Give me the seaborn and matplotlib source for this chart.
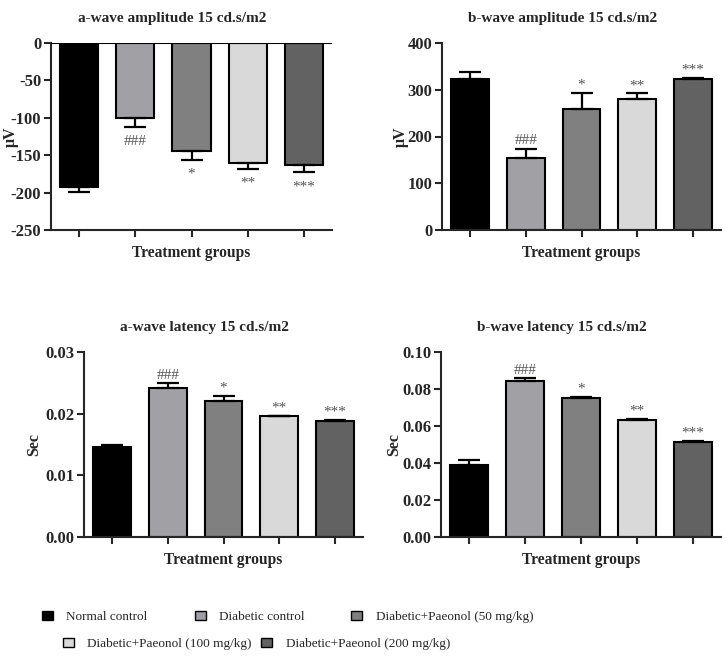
import numpy as np
import pandas as pd
import matplotlib
matplotlib.use("Agg")
import matplotlib.pyplot as plt
from matplotlib.patches import Patch
import seaborn as sns

sns.set_style("ticks")
plt.rcParams['font.family'] = ['Liberation Serif', 'DejaVu Serif']
plt.rcParams['font.weight'] = 'bold'

# 组别与颜色
groups = ["Normal control", "Diabetic control", "Diabetic+Paeonol (50 mg/kg)",
          "Diabetic+Paeonol (100 mg/kg)", "Diabetic+Paeonol (200 mg/kg)"]
colors = ["#000000", "#a19fa5", "#808080", "#d9d9d9", "#626262"]
marks = ["", "###", "*", "**", "***"]

# 各面板数据：均值与误差
a_amp_mean = [-193, -100, -145, -161, -163]
a_amp_err = [6, 12, 11, 7, 10]
b_amp_mean = [322, 153, 259, 280, 322]
b_amp_err = [15, 21, 35, 12, 3]
a_lat_mean = [0.0146, 0.0242, 0.0220, 0.0196, 0.0188]
a_lat_err = [0.0003, 0.0007, 0.0008, 0.0001, 0.0002]
b_lat_mean = [0.039, 0.0845, 0.0752, 0.0632, 0.0512]
b_lat_err = [0.0025, 0.0013, 0.0005, 0.0008, 0.0006]

panels = [
    ("a-wave amplitude 15 cd.s/m2", "μV", a_amp_mean, a_amp_err,
     (-250, 0), np.arange(-250, 1, 50), "{:.0f}",
     [51 / 726, 1 - 230 / 663, 281 / 726, 187 / 663], -0.116),
    ("b-wave amplitude 15 cd.s/m2", "μV", b_amp_mean, b_amp_err,
     (0, 400), np.arange(0, 401, 100), "{:.0f}",
     [442 / 726, 1 - 230 / 663, 279 / 726, 187 / 663], -0.12),
    ("a-wave latency 15 cd.s/m2", "Sec", a_lat_mean, a_lat_err,
     (0, 0.03), [0, 0.01, 0.02, 0.03], "{:.2f}",
     [84 / 726, 1 - 537 / 663, 279 / 726, 185 / 663], -0.15),
    ("b-wave latency 15 cd.s/m2", "Sec", b_lat_mean, b_lat_err,
     (0, 0.10), [0, 0.02, 0.04, 0.06, 0.08, 0.10], "{:.2f}",
     [441 / 726, 1 - 537 / 663, 280 / 726, 185 / 663], -0.138),
]

fig = plt.figure(figsize=(7.26, 6.63), dpi=100)

for title, ylab, means, errs, ylim, yticks, fmt, rect, ylab_x in panels:
    ax = fig.add_axes(rect)
    df = pd.DataFrame({"group": groups, "value": means})
    sns.barplot(data=df, x="group", y="value", hue="group", palette=colors,
                order=groups, hue_order=groups, legend=False, width=0.68,
                edgecolor="black", linewidth=1.5, ax=ax)
    x = np.arange(len(groups))
    neg = means[0] < 0
    zeros = np.zeros(len(errs))
    yerr = [errs, zeros] if neg else [zeros, errs]
    ax.errorbar(x, means, yerr=yerr, fmt="none", ecolor="black",
                elinewidth=1.6, capsize=8, capthick=1.6, zorder=3)
    for xi, m, e, t in zip(x, means, errs, marks):
        if not t:
            continue
        if neg:
            ax.annotate(t, (xi, m - e), xytext=(0, -6), textcoords="offset points",
                        ha="center", va="top", fontsize=11, color="#555555",
                        fontweight="normal")
        else:
            ax.annotate(t, (xi, m + e), xytext=(0, 1), textcoords="offset points",
                        ha="center", va="bottom", fontsize=11, color="#555555",
                        fontweight="normal")
    if neg:
        ax.axhline(0, color="black", lw=1.5, zorder=4)
    ax.set_xlim(-0.5, 4.5)
    ax.set_ylim(*ylim)
    ax.set_yticks(yticks)
    ax.set_yticklabels([fmt.format(v) for v in yticks], fontsize=12, fontweight="bold")
    ax.set_xticks(x)
    ax.set_xticklabels([])
    ax.tick_params(axis="both", direction="out", length=5, width=1.5, pad=2)
    for s in ["left", "bottom"]:
        ax.spines[s].set_linewidth(1.5)
    sns.despine(ax=ax)
    # 标题略偏左，与原图一致
    ax.set_title(title, fontsize=11, fontweight="bold", pad=15, x=0.5 - 19 / 280)
    ax.set_xlabel("Treatment groups", fontsize=11.2, fontweight="bold", labelpad=4)
    ax.set_ylabel(ylab, fontsize=11.5, fontweight="bold")
    ax.yaxis.set_label_coords(ylab_x, 0.5)

handles = [Patch(facecolor=c, edgecolor="black", linewidth=1.0) for c in colors]
leg_kw = dict(frameon=False, handlelength=0.85, handleheight=0.6,
              handletextpad=1.0, borderpad=0, borderaxespad=0,
              prop={"family": "Liberation Serif", "weight": "normal", "size": 9.5})
fig.legend(handles[:3], groups[:3], ncol=3, loc="center left",
           bbox_to_anchor=(42 / 726, 1 - 617 / 663), columnspacing=3.55, **leg_kw)
fig.legend(handles[3:], groups[3:], ncol=2, loc="center left",
           bbox_to_anchor=(63 / 726, 1 - 644 / 663), columnspacing=0.7, **leg_kw)

fig.savefig("out.png", dpi=100)
